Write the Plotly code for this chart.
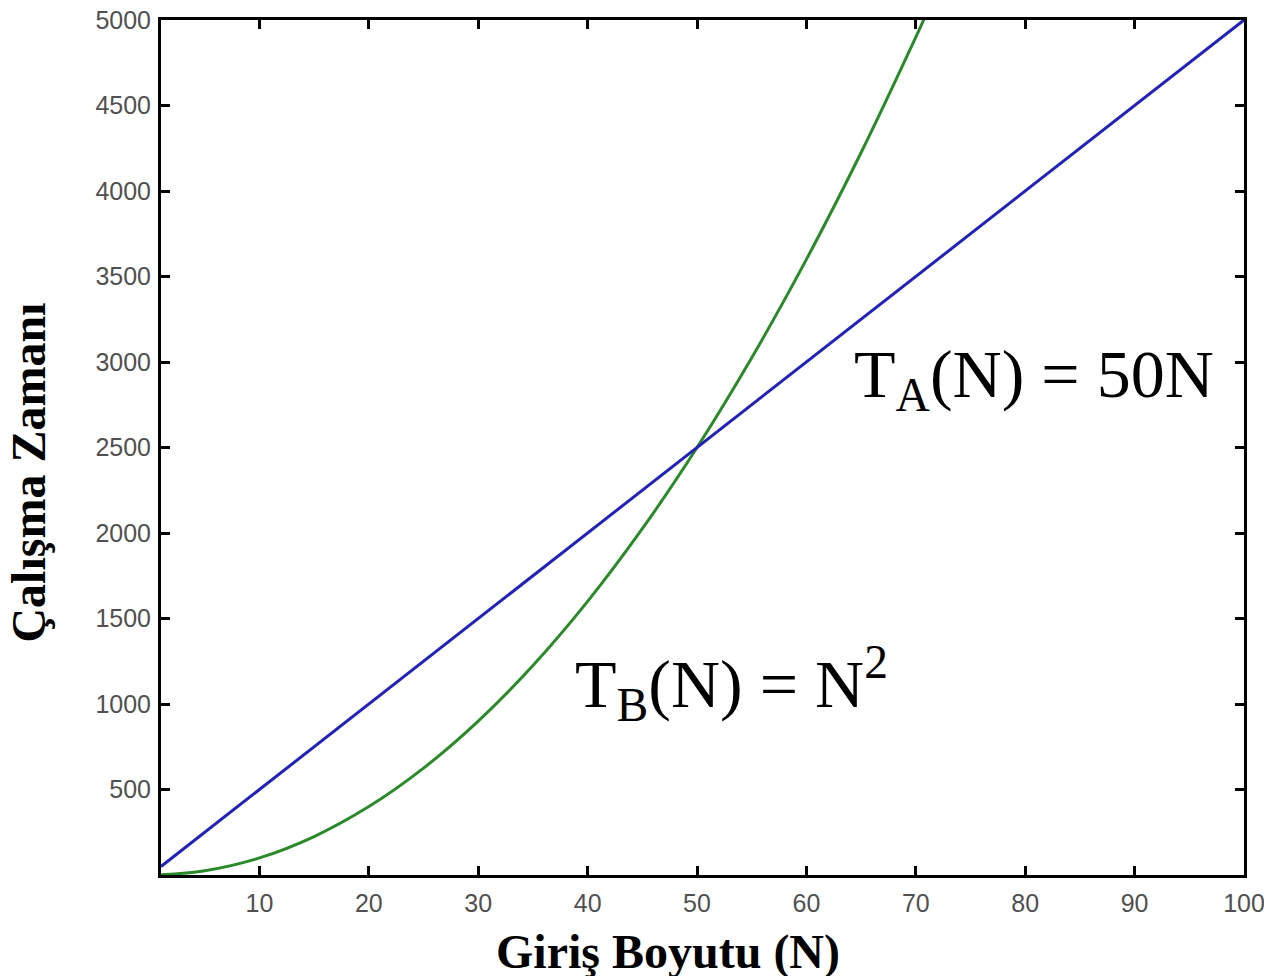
import plotly.graph_objects as go

# Data
n_linear = [1, 100]
t_linear = [50, 5000]

n_quad = [1, 5, 10, 15, 20, 25, 30, 35, 40, 45, 50, 55, 60, 65, 70, 71]
t_quad = [1, 25, 100, 225, 400, 625, 900, 1225, 1600, 2025, 2500, 3025, 3600, 4225, 4900, 5041]

x_ticks = [10, 20, 30, 40, 50, 60, 70, 80, 90, 100]
y_ticks = [500, 1000, 1500, 2000, 2500, 3000, 3500, 4000, 4500, 5000]

fig = go.Figure()
fig.add_trace(go.Scatter(x=n_quad, y=t_quad, mode="lines", line=dict(color="#2a8a2a", width=3, shape="spline"),
                         showlegend=False))
fig.add_trace(go.Scatter(x=n_linear, y=t_linear, mode="lines", line=dict(color="#2222b8", width=3),
                         showlegend=False))

axis_common = dict(showline=True, linecolor="black", linewidth=3, mirror="ticks", ticks="inside",
                   ticklen=9, tickwidth=2.5, tickcolor="black", showgrid=False, zeroline=False,
                   automargin=False, ticklabeloverflow="allow",
                   tickfont=dict(family="Liberation Sans, Arial", size=25, color="#505050"))

fig.update_xaxes(range=[1, 100], tickvals=x_ticks, ticklabelstandoff=4, **axis_common)
fig.update_yaxes(range=[0, 5000], tickvals=y_ticks, ticklabelstandoff=2, **axis_common)

fig.add_annotation(text="T<sub>A</sub>(N) = 50N", x=64.2, y=2903, xref="x", yref="y", xanchor="left",
                   yanchor="middle", showarrow=False,
                   font=dict(family="Liberation Serif, Times New Roman", size=68, color="black"))
fig.add_annotation(text="T<sub>B</sub>(N) = N<sup>2</sup>", x=38.7, y=1117, xref="x", yref="y", xanchor="left",
                   yanchor="middle", showarrow=False,
                   font=dict(family="Liberation Serif, Times New Roman", size=68, color="black"))

fig.add_annotation(text="<b>Giriş Boyutu (N)</b>", x=0.468, y=-0.0895, xref="paper", yref="paper",
                   xanchor="center", yanchor="middle", showarrow=False,
                   font=dict(family="Liberation Serif, Times New Roman", size=48, color="black"))
fig.add_annotation(text="<b>Çalışma Zamanı</b>", x=-0.122, y=0.4705, xref="paper", yref="paper",
                   xanchor="center", yanchor="middle", showarrow=False, textangle=-90,
                   font=dict(family="Liberation Serif, Times New Roman", size=48, color="black"))

fig.update_layout(width=1264, height=968, margin=dict(l=153, r=28, t=12, b=101),
                  plot_bgcolor="white", paper_bgcolor="white")

fig.write_html("out.html")
